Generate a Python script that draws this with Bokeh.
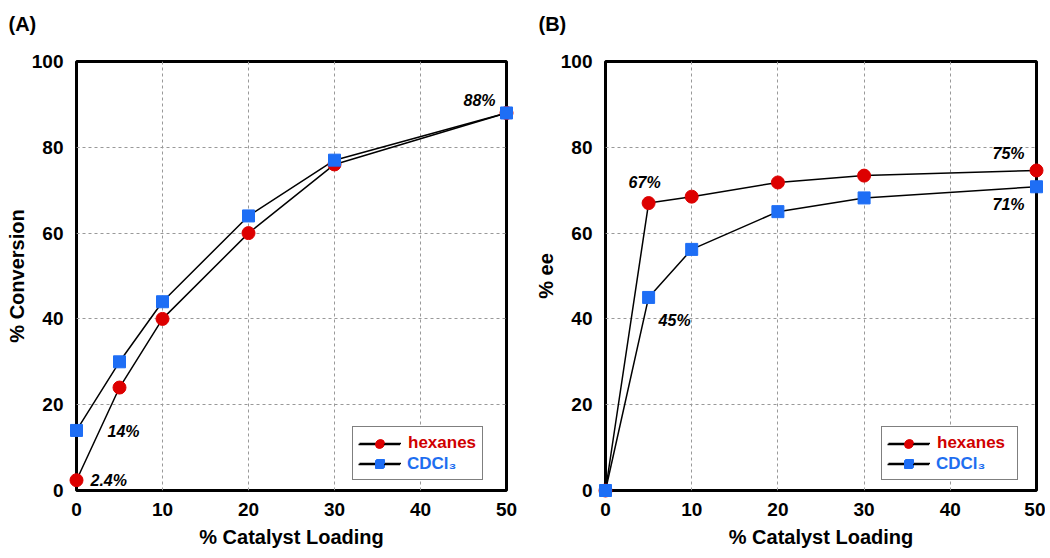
from bokeh.plotting import figure
from bokeh.layouts import row
from bokeh.models import Range1d, FixedTicker, Legend, LegendItem, Label
from bokeh.core.properties import value
from bokeh.embed import file_html
from bokeh.resources import INLINE

# ---------------- data ----------------
loading = [0, 5, 10, 20, 30, 50]
conv_hexanes = [2.4, 24, 40, 60, 76, 88]
conv_cdcl3 = [14, 30, 44, 64, 77, 88]
ee_hexanes = [0, 67, 68.5, 71.8, 73.4, 74.6]
ee_cdcl3 = [0, 45, 56.2, 65, 68.2, 70.8]

x_ticks = [0, 10, 20, 30, 40, 50]
y_ticks = [0, 20, 40, 60, 80, 100]

conv_note_x = [0, 0, 50]
conv_note_y = [2.4, 14, 88]
conv_note_text = ["2.4%", "14%", "88%"]

ee_note_x = [5, 5, 50, 50]
ee_note_y = [67, 45, 74.6, 70.8]
ee_note_text = ["67%", "45%", "75%", "71%"]

series_names = ["hexanes", "CDCl\u2083"]

# ---------------- styles ----------------
FONT = "Liberation Sans"
RED = "#dd0000"
BLUE = "#1e6ef5"
RED_TXT = "#d00000"
BLUE_TXT = "#1e6ef0"

conv_note_style = [  # (align, x_off, y_off)
    ("left", 14, 0),
    ("left", 31, -1.5),
    ("right", -11, 12),
]
ee_note_style = [
    ("center", -4, 21),
    ("left", 10, -23),
    ("right", -12, 16.5),
    ("right", -12, -17.5),
]


def make_panel(tag, ylabel, hex_vals, cdc_vals, nx, ny, ntext, nstyle,
               width, left, right, tag_x, ylab_standoff, ytick_standoff, leg_label_w):
    p = figure(width=width, height=552, x_range=Range1d(0, 50), y_range=Range1d(0, 100),
               output_backend="svg", toolbar_location=None,
               min_border_left=left, min_border_right=right,
               min_border_top=61, min_border_bottom=62)
    p.background_fill_color = "white"
    p.border_fill_color = "white"
    p.outline_line_color = "black"
    p.outline_line_width = 3

    for ax in (p.xaxis[0], p.yaxis[0]):
        ax.axis_line_color = None
        ax.major_tick_line_color = None
        ax.minor_tick_line_color = None
        ax.major_label_text_font = FONT
        ax.major_label_text_font_style = "bold"
        ax.major_label_text_font_size = "19px"
        ax.major_label_text_color = "black"
        ax.axis_label_text_font = FONT
        ax.axis_label_text_font_style = "bold"
        ax.axis_label_text_font_size = "20px"
        ax.axis_label_text_color = "black"
    p.xaxis.ticker = FixedTicker(ticks=x_ticks)
    p.yaxis.ticker = FixedTicker(ticks=y_ticks)
    p.xaxis.axis_label = "% Catalyst Loading"
    p.yaxis.axis_label = ylabel
    p.xaxis.major_label_standoff = 6
    p.yaxis.major_label_standoff = ytick_standoff
    p.xaxis.axis_label_standoff = 7
    p.yaxis.axis_label_standoff = ylab_standoff

    p.xgrid.ticker = FixedTicker(ticks=x_ticks)
    p.ygrid.ticker = FixedTicker(ticks=y_ticks)
    for g in (p.xgrid[0], p.ygrid[0]):
        g.grid_line_color = "#999999"
        g.grid_line_dash = "3 3"
        g.grid_line_width = 1

    lh = p.line(loading, hex_vals, line_color="black", line_width=1.5, level="overlay")
    lc = p.line(loading, cdc_vals, line_color="black", line_width=1.5, level="overlay")
    ch = p.scatter(loading, hex_vals, marker="circle", size=13, fill_color=RED,
                   line_color=RED, level="overlay")
    sc = p.scatter(loading, cdc_vals, marker="square", size=12, fill_color=BLUE,
                   line_color=BLUE, level="overlay")

    common = dict(location=(276, 10), orientation="vertical", padding=6, spacing=0,
                  glyph_width=42, glyph_height=20, label_height=20, label_standoff=7,
                  label_width=leg_label_w, margin=0,
                  label_text_font=FONT, label_text_font_style="bold",
                  label_text_font_size="17px")
    legA = Legend(items=[LegendItem(label=series_names[0], renderers=[lh, ch]),
                         LegendItem(label="\u00a0", renderers=[lc, sc])],
                  label_text_color=RED_TXT, border_line_color="black",
                  border_line_width=1.5, background_fill_color="white",
                  background_fill_alpha=1.0, **common)
    legB = Legend(items=[LegendItem(label="\u00a0", renderers=[lh, ch]),
                         LegendItem(label=series_names[1], renderers=[lc, sc])],
                  label_text_color=BLUE_TXT, border_line_alpha=0,
                  background_fill_alpha=0, **common)
    p.add_layout(legA)
    p.add_layout(legB)

    for x, y, t, (al, xo, yo) in zip(nx, ny, ntext, nstyle):
        p.add_layout(Label(x=x, y=y, text=t, x_offset=xo, y_offset=yo,
                           text_align=al, text_baseline="middle",
                           text_font=FONT, text_font_style="bold italic",
                           text_font_size="16px", text_color="black"))

    # panel tag, placed relative to the frame's top-left corner
    p.text(x=[x_ticks[0]], y=[y_ticks[-1]], text=[tag], x_offset=tag_x, y_offset=-38,
           text_align="left", text_baseline="alphabetic",
           text_font=value(FONT), text_font_style="bold",
           text_font_size="20px", text_color="black", level="overlay")
    return p


pA = make_panel("(A)", "% Conversion", conv_hexanes, conv_cdcl3,
                conv_note_x, conv_note_y, conv_note_text, conv_note_style,
                525, 76, 19, -68, 1, 7, 66)
pB = make_panel("(B)", "% ee", ee_hexanes, ee_cdcl3,
                ee_note_x, ee_note_y, ee_note_text, ee_note_style,
                520, 80, 9, -67, 1, 7, 74)

layout = row(pA, pB)
open("out.html", "w").write(file_html(layout, INLINE))
